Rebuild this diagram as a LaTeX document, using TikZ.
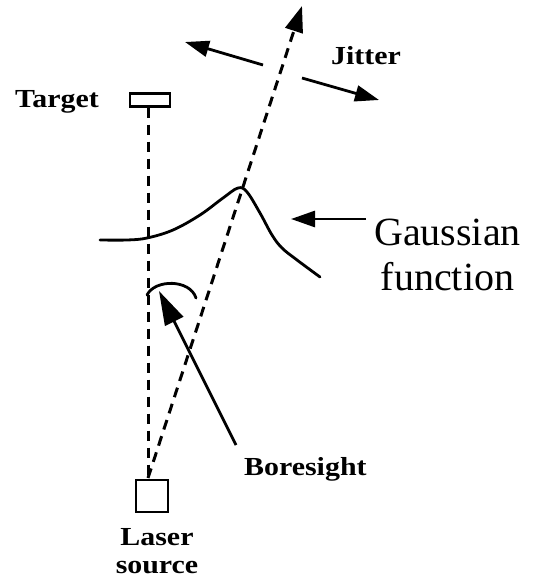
\documentclass[tikz,border=0pt]{standalone}
\usepackage{fontspec}
\setmainfont{Liberation Serif}
\newfontfamily\lblfont[FakeStretch=1.15]{Liberation Serif}
\usetikzlibrary{arrows.meta,positioning}
\tikzstyle{box} = [rectangle, draw=black, line width=2.4pt, inner sep=0pt, fill=white]
\tikzstyle{beam} = [black, line width=3pt, dash pattern=on 10pt off 7pt]
\tikzstyle{label} = [inner sep=0pt, anchor=base west, font=\lblfont\bfseries\fontsize{26}{28}\selectfont]
\tikzstyle{arrow} = [-{Triangle[length=24pt,width=16pt]}, line width=2.8pt, black]
\tikzstyle{curve} = [black, line width=2.8pt, line cap=round]

\begin{document}
\begin{tikzpicture}[x=1pt, y=-1pt]
\useasboundingbox (0,0) rectangle (533,580);
% boxes
\node[box, minimum width=40pt, minimum height=13pt] (target) at (150,100) {};
\node[box, minimum width=32pt, minimum height=32pt] (laser) at (152,496) {};
% labels
\node[label] (targetlabel) at (15,108) {Target};
\node[label, anchor=base, align=center] (laserlabel) at (157,573) {Laser\\source};
\node[label] (jitterlabel) at (331,65) {Jitter};
\node[label] (borelabel) at (244,475) {Boresight};
\node[inner sep=0pt, anchor=base west, align=center, font=\fontsize{40}{45}\selectfont] (gausslabel) at (374,290) {Gaussian\\function};

% beams
\coordinate (beamtip) at (302,6);
\draw[beam] (target.south -| 148,0) -- (148,480);
\draw[beam, -{Triangle[length=26pt,width=18pt]}] (148,478) -- (beamtip);

% jitter
\coordinate (jitL0) at (263,65);
\coordinate (jitL1) at (185,42);
\coordinate (jitR0) at (302,78);
\coordinate (jitR1) at (379,100);
\draw[arrow] (jitL0) -- (jitL1);
\draw[arrow] (jitR0) -- (jitR1);

% gaussian
\draw[curve] plot[smooth, tension=0.6] coordinates {(100,240) (127,240) (147,238) (173,230) (200,215) (223,198) (238,188) (247,192) (260,213) (272,235) (282,248) (297,260) (320,277)};
\coordinate (gausstail) at (366,219);
\coordinate (gausstip) at (291,219);
\draw[arrow] (gausstail) -- (gausstip);

% boresight
\draw[curve] (147,295) .. controls (155,279) and (190,279) .. (196,298);
\coordinate (boretail) at (236,445);
\coordinate (boretip) at (159,291);
\draw[-{Triangle[length=34pt,width=20pt]}, line width=2.8pt] (boretail) -- (boretip);
\end{tikzpicture}
\end{document}
